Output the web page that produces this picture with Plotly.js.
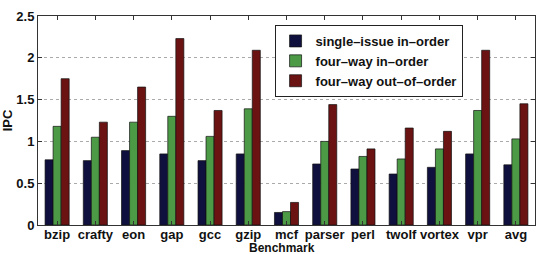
<!DOCTYPE html>
<html>
<head>
<meta charset="utf-8">
<script src="https://cdn.plot.ly/plotly-3.0.1.min.js"></script>
<style>
  html, body { margin: 0; padding: 0; background: #ffffff; }
  #chart { width: 538px; height: 254px; }
</style>
</head>
<body>
<div id="chart"></div>
<script>
// Benchmarks on the x axis
const benchmarks = ['bzip', 'crafty', 'eon', 'gap', 'gcc', 'gzip', 'mcf', 'parser', 'perl', 'twolf', 'vortex', 'vpr', 'avg'];

// IPC per core configuration
const singleIssueInOrder = [0.78, 0.77, 0.89, 0.85, 0.77, 0.85, 0.15, 0.73, 0.67, 0.61, 0.69, 0.85, 0.72];
const fourWayInOrder     = [1.18, 1.05, 1.23, 1.30, 1.06, 1.39, 0.16, 1.00, 0.82, 0.79, 0.91, 1.37, 1.03];
const fourWayOutOfOrder  = [1.75, 1.23, 1.65, 2.23, 1.37, 2.09, 0.27, 1.44, 0.91, 1.16, 1.12, 2.09, 1.45];

const seriesNames = ['single\u2013issue in\u2013order', 'four\u2013way in\u2013order', 'four\u2013way out\u2013of\u2013order'];
const seriesColors = ['#10103f', '#4c9a46', '#6b1212'];
const seriesValues = [singleIssueInOrder, fourWayInOrder, fourWayOutOfOrder];

const font = { family: 'Liberation Sans, Arial, Helvetica, sans-serif', size: 13, color: '#111111', weight: 'bold' };
const titleFont = Object.assign({}, font, { size: 12 });

const traces = seriesValues.map((vals, i) => ({
  type: 'bar',
  name: seriesNames[i],
  x: benchmarks,
  y: vals,
  marker: { color: seriesColors[i], line: { color: '#111111', width: 0.7 } }
}));

const layout = {
  width: 538,
  height: 254,
  margin: { l: 38, r: 3, t: 16, b: 29 },
  paper_bgcolor: '#ffffff',
  plot_bgcolor: '#ffffff',
  font: font,
  barmode: 'group',
  bargap: 0.37,
  bargroupgap: 0,
  showlegend: true,
  legend: {
    x: 0.476, y: 0.957, xanchor: 'left', yanchor: 'top',
    bgcolor: '#ffffff', bordercolor: '#222222', borderwidth: 1,
    font: font,
    tracegroupgap: 0,
    itemwidth: 30
  },
  xaxis: {
    type: 'category',
    range: [-0.5, 12.5],
    ticks: 'inside', ticklen: 4, tickcolor: '#333333',
    showline: true, linecolor: '#333333', linewidth: 1, mirror: 'ticks',
    showgrid: false, zeroline: false,
    ticklabelstandoff: -3,
    tickfont: font
  },
  yaxis: {
    range: [0, 2.5],
    tickvals: [0, 0.5, 1, 1.5, 2, 2.5],
    ticktext: ['0', '0.5', '1', '1.5', '2', '2.5'],
    ticks: 'inside', ticklen: 4, tickcolor: '#333333',
    showline: true, linecolor: '#333333', linewidth: 1, mirror: 'ticks',
    showgrid: true, gridcolor: '#aaaaaa', gridwidth: 1, griddash: 'dot',
    zeroline: false,
    tickfont: font,
    title: { text: 'IPC', font: font, standoff: 6 }
  },
  annotations: [{
    text: 'Benchmark', font: titleFont, showarrow: false,
    xref: 'paper', yref: 'paper', x: 0.49, y: -0.109,
    xanchor: 'center', yanchor: 'middle', borderpad: 0
  }]
};

Plotly.newPlot('chart', traces, layout, { staticPlot: true, displayModeBar: false });
</script>
</body>
</html>
